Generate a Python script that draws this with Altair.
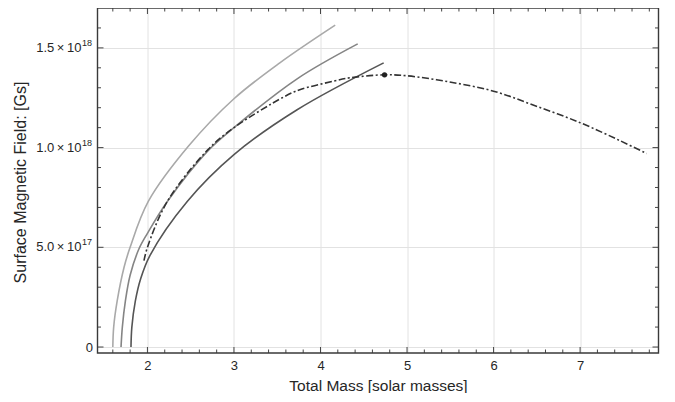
import altair as alt
import pandas as pd

# ---- data (field in units of 1e18 Gs) ----
m_light = [1.60, 1.61, 1.65, 1.73, 1.80, 2.01, 2.48, 3.00, 3.53, 4.17]
b_light = [0.00, 0.10, 0.23, 0.40, 0.50, 0.73, 1.01, 1.245, 1.425, 1.614]

m_mid = [1.695, 1.71, 1.745, 1.80, 1.90, 2.00, 2.23, 2.69, 3.00, 3.73, 4.43]
b_mid = [0.00, 0.10, 0.23, 0.36, 0.49, 0.57, 0.73, 0.98, 1.10, 1.345, 1.52]

m_dark = [1.81, 1.82, 1.86, 1.92, 2.03, 2.46, 3.00, 3.73, 4.73]
b_dark = [0.00, 0.10, 0.23, 0.34, 0.46, 0.73, 0.965, 1.19, 1.425]

m_dash = [1.96, 2.00, 2.23, 2.70, 3.00, 3.58, 3.76, 4.15, 4.34, 4.74, 5.00, 5.48, 6.00, 6.48, 7.00, 7.46, 7.77]
b_dash = [0.433, 0.50, 0.73, 0.99, 1.10, 1.255, 1.29, 1.333, 1.35, 1.365, 1.36, 1.33, 1.283, 1.21, 1.125, 1.035, 0.97]

m_peak = [4.74]
b_peak = [1.365]

x_major = [2, 3, 4, 5, 6, 7]
x_minor = [1.6, 1.8, 2.2, 2.4, 2.6, 2.8, 3.2, 3.4, 3.6, 3.8, 4.2, 4.4, 4.6, 4.8,
           5.2, 5.4, 5.6, 5.8, 6.2, 6.4, 6.6, 6.8, 7.2, 7.4, 7.6, 7.8]
y_major = [0.0, 0.5, 1.0, 1.5]
y_minor = [0.1, 0.2, 0.3, 0.4, 0.6, 0.7, 0.8, 0.9, 1.1, 1.2, 1.3, 1.4, 1.6]
y_lab_vals = [0.5, 1.0, 1.5]
y_lab_base = ["5.0\u2009×\u200910", "1.0\u2009×\u200910", "1.5\u2009×\u200910"]
y_lab_exp = ["17", "18", "18"]

W, H = 561, 345
FONT = "Liberation Sans"
XD = [1.423, 7.906]
YD = [-0.03, 1.70]
TXT = "#262626"

xs = alt.Scale(domain=XD, nice=False, zero=False)
ys = alt.Scale(domain=YD, nice=False, zero=False)


def curve(ms, bs, color, width=1.6, dash=None):
    df = pd.DataFrame({"m": ms, "b": bs})
    kw = dict(color=color, strokeWidth=width, interpolate="catmull-rom", clip=True)
    if dash:
        kw["strokeDash"] = dash
    return alt.Chart(df).mark_line(**kw).encode(
        x=alt.X("m:Q", scale=xs,
                axis=alt.Axis(values=x_major, format="d", grid=True, gridColor="#e2e2e2",
                              ticks=False, tickSize=0, domain=False, labelPadding=6,
                              labelFont=FONT, labelFontSize=13, labelColor=TXT,
                              title="Total Mass [solar masses]", titleFont=FONT,
                              titleFontSize=15.5, titleFontWeight="normal", titleColor=TXT,
                              titleY=32, titleBaseline="middle")),
        y=alt.Y("b:Q", scale=ys,
                axis=alt.Axis(values=y_major, grid=True, gridColor="#e2e2e2", ticks=False,
                              tickSize=0, domain=False, labelPadding=5, labelFont=FONT,
                              labelFontSize=13, labelColor=TXT,
                              labelExpr="datum.value == 0 ? '0' : ''",
                              title="Surface Magnetic Field: [Gs]", titleFont=FONT,
                              titleFontSize=16, titleFontWeight="normal", titleColor=TXT,
                              titleX=-77, titleY=174, titleAngle=-90, titleAlign="center",
                              titleBaseline="middle")),
    )


def xticks(vals, ln):
    df = pd.DataFrame({"m": vals})
    base = alt.Chart(df).mark_rule(color="#444", strokeWidth=1)
    bot = base.encode(x=alt.X("m:Q", scale=xs), y=alt.value(H), y2=alt.value(H - ln))
    top = base.encode(x=alt.X("m:Q", scale=xs), y=alt.value(0), y2=alt.value(ln))
    return bot + top


def yticks(vals, ln):
    df = pd.DataFrame({"b": vals})
    base = alt.Chart(df).mark_rule(color="#444", strokeWidth=1)
    left = base.encode(y=alt.Y("b:Q", scale=ys), x=alt.value(0), x2=alt.value(ln))
    right = base.encode(y=alt.Y("b:Q", scale=ys), x=alt.value(W), x2=alt.value(W - ln))
    return left + right


lab_df = pd.DataFrame({"b": y_lab_vals, "base": y_lab_base, "exp": y_lab_exp})
lab_base = alt.Chart(lab_df).mark_text(align="right", baseline="middle", font=FONT,
                                       fontSize=13, color=TXT).encode(
    y=alt.Y("b:Q", scale=ys), x=alt.value(-16), text="base:N")
lab_exp = alt.Chart(lab_df).mark_text(align="left", baseline="middle", font=FONT,
                                      fontSize=9, color=TXT, dy=-5).encode(
    y=alt.Y("b:Q", scale=ys), x=alt.value(-15.5), text="exp:N")

peak = alt.Chart(pd.DataFrame({"m": m_peak, "b": b_peak})).mark_point(
    filled=True, color="#222", size=28, opacity=1).encode(
    x=alt.X("m:Q", scale=xs), y=alt.Y("b:Q", scale=ys))

frame = alt.Chart(pd.DataFrame({"k": [0]})).mark_rect(
    filled=False, stroke="#3a3a3a", strokeWidth=1.4, fill=None).encode(
    x=alt.value(0), x2=alt.value(W), y=alt.value(0), y2=alt.value(H))

chart = alt.layer(
    curve(m_light, b_light, "#a9a9a9"),
    curve(m_mid, b_mid, "#858585"),
    curve(m_dark, b_dark, "#555555"),
    curve(m_dash, b_dash, "#333333", 1.6, [7, 2.5, 2, 2.5]),
    peak,
    xticks(x_major, 6), xticks(x_minor, 3.5),
    yticks(y_major, 6), yticks(y_minor, 3.5),
    lab_base, lab_exp, frame,
).properties(
    width=W, height=H,
    autosize=alt.AutoSizeParams(type="none"),
    padding={"left": 89.5, "top": 0, "right": 8, "bottom": 40},
).configure(
    background="white",
    view=alt.ViewConfig(stroke=None),
)

chart.save("out.html", embed_options={"renderer": "svg", "actions": False})
